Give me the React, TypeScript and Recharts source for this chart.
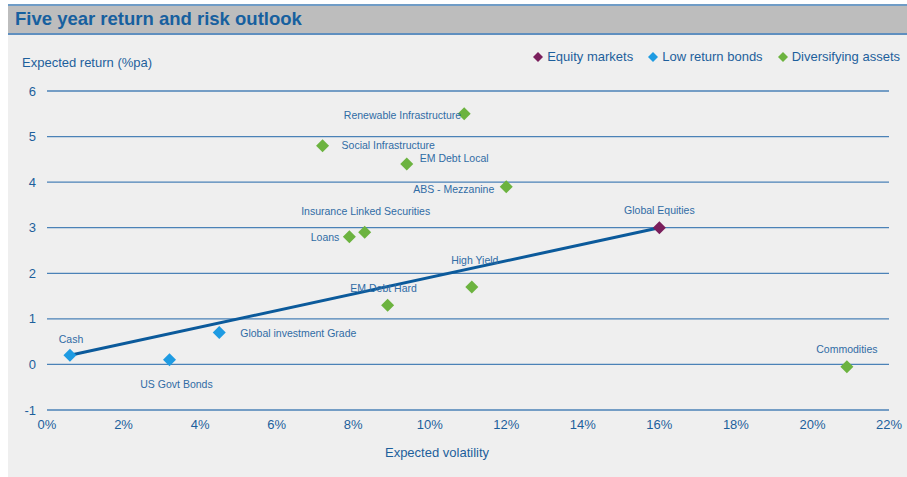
import React from 'react'
import {
	CartesianGrid,
	Scatter,
	ScatterChart,
	XAxis,
	YAxis
} from 'recharts'

// Expected volatility (%) and expected return (%pa) per asset class
const EQUITY_NAMES = ['Global Equities']
const EQUITY_VOL = [16]
const EQUITY_RET = [3.0]

const BOND_NAMES = ['Cash', 'US Govt Bonds', 'Global investment Grade']
const BOND_VOL = [0.6, 3.2, 4.5]
const BOND_RET = [0.2, 0.1, 0.7]

const DIV_NAMES = [
	'Renewable Infrastructure',
	'Social Infrastructure',
	'EM Debt Local',
	'ABS - Mezzanine',
	'Insurance Linked Securities',
	'Loans',
	'High Yield',
	'EM Debt Hard',
	'Commodities'
]
const DIV_VOL = [10.9, 7.2, 9.4, 12.0, 8.3, 7.9, 11.1, 8.9, 20.9]
const DIV_RET = [5.5, 4.8, 4.4, 3.9, 2.9, 2.8, 1.7, 1.3, -0.05]

// Trend line from cash to global equities
const LINE_VOL = [0.6, 16]
const LINE_RET = [0.2, 3.0]

const X_TICKS = [0, 2, 4, 6, 8, 10, 12, 14, 16, 18, 20, 22]
const Y_TICKS = [-1, 0, 1, 2, 3, 4, 5, 6]

const SERIES = [
	{ name: 'Equity markets', color: '#7a1f5c' },
	{ name: 'Low return bonds', color: '#1e9be2' },
	{ name: 'Diversifying assets', color: '#6cb33f' }
]

// label placement relative to each marker: [dx, dy, anchor]
const LABEL_OFFSETS: Record<string, [number, number, 'start' | 'middle' | 'end']> = {
	'Global Equities': [0, -18, 'middle'],
	Cash: [1, -16, 'middle'],
	'US Govt Bonds': [7, 24, 'middle'],
	'Global investment Grade': [21, 0, 'start'],
	'Renewable Infrastructure': [-3, 1, 'end'],
	'Social Infrastructure': [19, -1, 'start'],
	'EM Debt Local': [13, -6, 'start'],
	'ABS - Mezzanine': [-12, 2, 'end'],
	'Insurance Linked Securities': [1, -21, 'middle'],
	Loans: [-10, 0, 'end'],
	'High Yield': [3, -27, 'middle'],
	'EM Debt Hard': [-4, -17, 'middle'],
	Commodities: [0, -18, 'middle']
}

const TEXT_BLUE = '#1d5f9c'
const LABEL_BLUE = '#2f6ca5'
const FONT = 'Arial, "Liberation Sans", sans-serif'

const toRows = (names: string[], vol: number[], ret: number[]) =>
	names.map((name, i) => ({ name, vol: vol[i], ret: ret[i] }))

const equityRows = toRows(EQUITY_NAMES, EQUITY_VOL, EQUITY_RET)
const bondRows = toRows(BOND_NAMES, BOND_VOL, BOND_RET)
const divRows = toRows(DIV_NAMES, DIV_VOL, DIV_RET)
const lineRows = LINE_VOL.map((vol, i) => ({ vol, ret: LINE_RET[i] }))

function makeMarker(color: string) {
	return (props: any) => {
		const { cx, cy, payload } = props
		const r = 6.5
		const off = LABEL_OFFSETS[payload.name] || [0, -16, 'middle']
		return (
			<g>
				<polygon
					points={`${cx},${cy - r} ${cx + r},${cy} ${cx},${cy + r} ${cx - r},${cy}`}
					fill={color}
				/>
				<text
					x={cx + off[0]}
					y={cy + off[1]}
					textAnchor={off[2]}
					dominantBaseline="central"
					fontSize={10.5}
					fontFamily={FONT}
					fill={LABEL_BLUE}
				>
					{payload.name}
				</text>
			</g>
		)
	}
}

const noShape = () => <g />

export default function App() {
	return (
		<div
			style={{
				position: 'absolute',
				left: 8,
				top: 4,
				width: 899,
				height: 473,
				background: '#efefef',
				fontFamily: FONT
			}}
		>
			<div
				style={{
					position: 'absolute',
					left: 0,
					top: 0,
					width: 899,
					height: 27,
					background: '#bdbdbd',
					borderTop: '2px solid #6f9cc6',
					borderBottom: '2px solid #5f8fbf'
				}}
			>
				<div
					style={{
						position: 'absolute',
						left: 7,
						top: 2,
						fontSize: 18.5,
						fontWeight: 'bold',
						color: '#17609f',
						whiteSpace: 'nowrap'
					}}
				>
					Five year return and risk outlook
				</div>
			</div>

			<div
				style={{
					position: 'absolute',
					left: 14,
					top: 51,
					fontSize: 13,
					color: TEXT_BLUE,
					whiteSpace: 'nowrap'
				}}
			>
				Expected return (%pa)
			</div>

			<div
				style={{
					position: 'absolute',
					right: 7,
					top: 45,
					display: 'flex',
					alignItems: 'center',
					fontSize: 13,
					color: TEXT_BLUE,
					whiteSpace: 'nowrap'
				}}
			>
				{SERIES.map((s) => (
					<div
						key={s.name}
						style={{ display: 'flex', alignItems: 'center', marginLeft: 14 }}
					>
						<svg width={12} height={12} style={{ marginRight: 3 }}>
							<polygon points="6,1 11,6 6,11 1,6" fill={s.color} />
						</svg>
						<span>{s.name}</span>
					</div>
				))}
			</div>

			<div
				style={{
					position: 'absolute',
					left: 0,
					top: 31
				}}
			>
				<ScatterChart
					width={899}
					height={442}
					margin={{ top: 56, right: 18, bottom: 0, left: 0 }}
				>
					<CartesianGrid
						horizontal
						vertical={false}
						stroke="#4b82b7"
						strokeWidth={1.3}
					/>
					<XAxis
						type="number"
						dataKey="vol"
						domain={[0, 22]}
						ticks={X_TICKS}
						tickFormatter={(v) => `${v}%`}
						axisLine={false}
						tickLine={false}
						tickMargin={4}
						height={67}
						tick={{ fill: TEXT_BLUE, fontSize: 13, fontFamily: FONT }}
						interval={0}
					/>
					<YAxis
						type="number"
						dataKey="ret"
						domain={[-1, 6]}
						ticks={Y_TICKS}
						axisLine={false}
						tickLine={false}
						tickMargin={5}
						width={39}
						tick={{ fill: TEXT_BLUE, fontSize: 13, fontFamily: FONT }}
						interval={0}
					/>
					<Scatter
						data={lineRows}
						line={{ stroke: '#0b5a9b', strokeWidth: 3 }}
						shape={noShape}
						legendType="none"
						isAnimationActive={false}
					/>
					<Scatter
						name={SERIES[1].name}
						data={bondRows}
						shape={makeMarker(SERIES[1].color)}
						isAnimationActive={false}
					/>
					<Scatter
						name={SERIES[2].name}
						data={divRows}
						shape={makeMarker(SERIES[2].color)}
						isAnimationActive={false}
					/>
					<Scatter
						name={SERIES[0].name}
						data={equityRows}
						shape={makeMarker(SERIES[0].color)}
						isAnimationActive={false}
					/>
				</ScatterChart>
			</div>

			<div
				style={{
					position: 'absolute',
					left: 429,
					top: 441,
					transform: 'translateX(-50%)',
					fontSize: 13,
					color: TEXT_BLUE,
					whiteSpace: 'nowrap'
				}}
			>
				Expected volatility
			</div>
		</div>
	)
}
